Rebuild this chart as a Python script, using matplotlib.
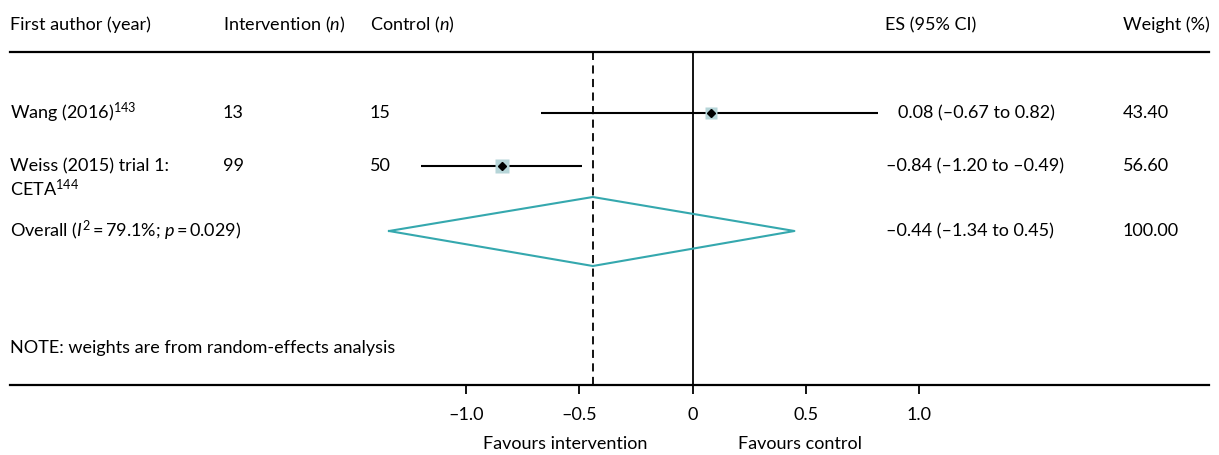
import matplotlib
matplotlib.use("Agg")
import matplotlib.pyplot as plt
import numpy as np

plt.rcParams['font.family'] = ['Lato', 'DejaVu Sans']
plt.rcParams['mathtext.fontset'] = 'custom'
plt.rcParams['mathtext.rm'] = 'Lato'
plt.rcParams['mathtext.it'] = 'Lato:italic'
plt.rcParams['mathtext.bf'] = 'Lato:bold'

# ---- data ----
study_labels = ["Wang (2016)$^{143}$", "Weiss (2015) trial 1:\nCETA$^{144}$"]
n_intervention = ["13", "99"]
n_control = ["15", "50"]
es = [0.08, -0.84]
ci_low = [-0.67, -1.20]
ci_high = [0.82, -0.49]
weights = [43.40, 56.60]
es_text = ["0.08 (–0.67 to 0.82)", "–0.84 (–1.20 to –0.49)"]
weight_text = ["43.40", "56.60"]

overall_label = "Overall ($I^{2}$\u2009=\u200979.1%; $p$\u2009=\u20090.029)"
overall_es = -0.44
overall_low = -1.34
overall_high = 0.45
overall_es_text = "–0.44 (–1.34 to 0.45)"
overall_weight_text = "100.00"

xticks = [-1.0, -0.5, 0, 0.5, 1.0]
xtick_labels = ["–1.0", "–0.5", "0", "0.5", "1.0"]

FS = 13

# ---- layout ----
W, H = 1219, 455
fig = plt.figure(figsize=(W / 100, H / 100), dpi=100)

x_zero_px = 692.5
unit_px = 226.5
left_px, right_px = 10, 1209
top_px, bottom_px = 52, 385

ax = fig.add_axes([left_px / W, 1 - bottom_px / H, (right_px - left_px) / W, (bottom_px - top_px) / H])
ax.set_xlim((left_px - x_zero_px) / unit_px, (right_px - x_zero_px) / unit_px)
ax.set_ylim(bottom_px, top_px)

for s in ['left', 'right']:
    ax.spines[s].set_visible(False)
for s in ['top', 'bottom']:
    ax.spines[s].set_linewidth(1.6)
    ax.spines[s].set_color('black')
ax.set_yticks([])
ax.set_xticks(xticks)
ax.set_xticklabels(xtick_labels, fontsize=FS)
ax.tick_params(axis='x', direction='out', length=6.5, width=1.3, pad=9, colors='black')

row_y = [113, 166]
overall_y = 231

# reference lines
ax.axvline(0, color='black', lw=1.3)
ax.axvline(overall_es, color='black', lw=1.3, ls=(0, (4.5, 3)))

# CIs and markers
for i in range(len(es)):
    ax.hlines(row_y[i], ci_low[i], ci_high[i], color='black', lw=1.5, zorder=2)
    ax.plot(es[i], row_y[i], marker='s', ms=1.35 * np.sqrt(weights[i]),
            color='#b6d5d8', mec='none', zorder=3)
    ax.plot(es[i], row_y[i], marker='D', ms=4.2, color='black', zorder=4)

# overall diamond
dx = [overall_low, overall_es, overall_high, overall_es, overall_low]
dy = [overall_y, 197, overall_y, 266, overall_y]
ax.plot(dx, dy, color='#35a8ae', lw=1.5, zorder=3)

def ftext(x, y, s, **kw):
    kw.setdefault('fontsize', FS)
    kw.setdefault('va', 'center')
    kw.setdefault('ha', 'left')
    fig.text(x / W, 1 - y / H, s, **kw)

# headers
hdr_y = 25
ftext(10, hdr_y, "First author (year)")
ftext(223, hdr_y, "Intervention ($n$)")
ftext(370, hdr_y, "Control ($n$)")
ftext(885, hdr_y, "ES (95% CI)")
ftext(1123, hdr_y, "Weight (%)")

# rows
es_x = [898, 886]
for i in range(len(es)):
    if "\n" in study_labels[i]:
        l1, l2 = study_labels[i].split("\n")
        ftext(10, row_y[i], l1)
        ftext(10, row_y[i] + 22, l2)
    else:
        ftext(10, row_y[i], study_labels[i])
    ftext(223, row_y[i], n_intervention[i])
    ftext(370, row_y[i], n_control[i])
    ftext(es_x[i], row_y[i], es_text[i])
    ftext(1123, row_y[i], weight_text[i])

ftext(10, overall_y, overall_label)
ftext(886, overall_y, overall_es_text)
ftext(1123, overall_y, overall_weight_text)

ftext(10, 348, "NOTE: weights are from random-effects analysis")

ftext(565, 444, "Favours intervention", ha='center')
ftext(800, 444, "Favours control", ha='center')

fig.savefig("out.png", dpi=100)
